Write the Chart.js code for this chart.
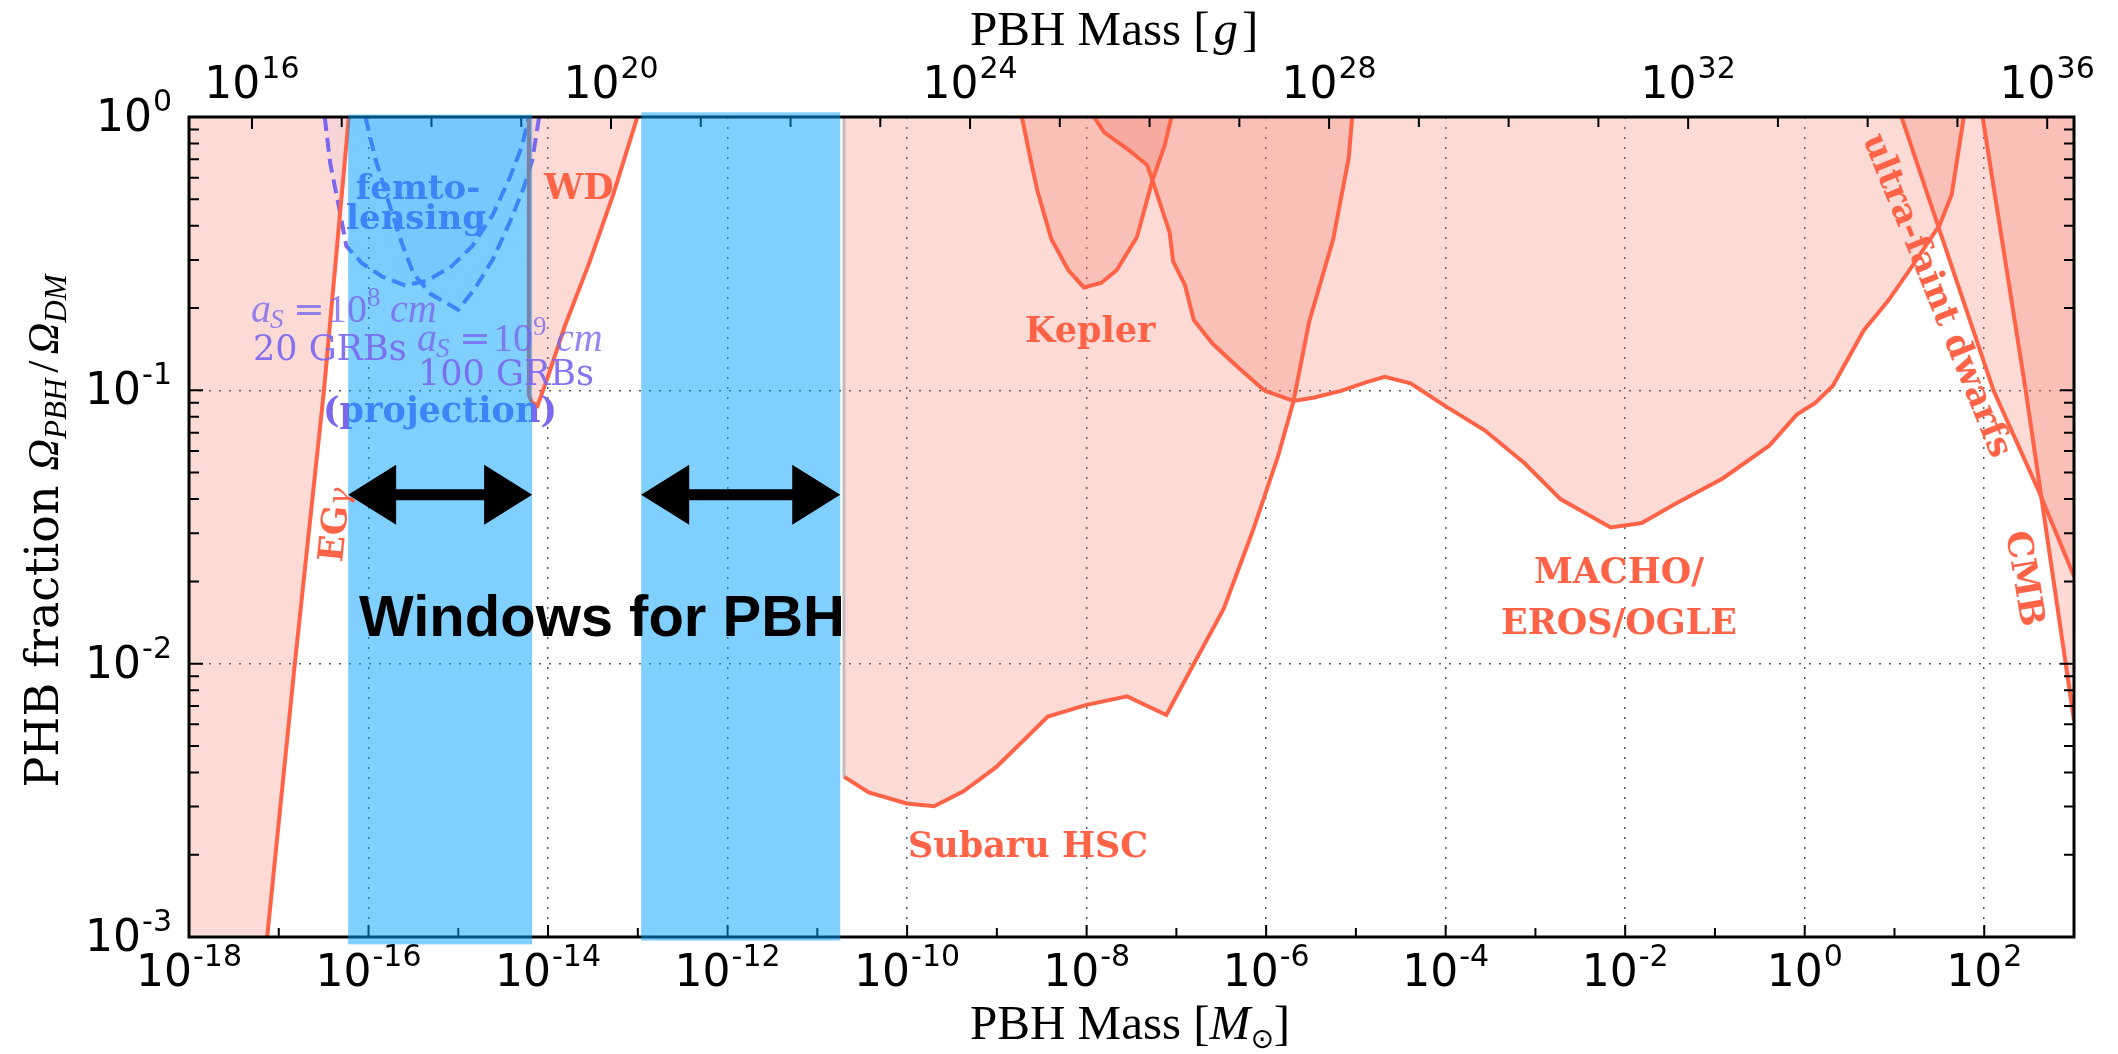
<!DOCTYPE html>
<html>
<head>
<meta charset="utf-8">
<script src="https://cdn.jsdelivr.net/npm/chart.js@4.4.0/dist/chart.umd.min.js"></script>
<style>
  html, body { margin: 0; padding: 0; background: #fff; }
  #chart { display: block; }
</style>
</head>
<body>
<canvas id="chart" width="2118" height="1054"></canvas>
<script>
// ---- axis ranges and ticks ----
const SOLAR_MASS_G = 1.989e33;
const massMin = 1e-18, massMax = 1e3;
const fracMin = 1e-3, fracMax = 1;

const massTicks = [1e-18, 1e-17, 1e-16, 1e-15, 1e-14, 1e-13, 1e-12, 1e-11, 1e-10, 1e-9, 1e-8,
                   1e-7, 1e-6, 1e-5, 1e-4, 1e-3, 1e-2, 1e-1, 1, 1e1, 1e2, 1e3];
const massLabelTicks = [1e-18, 1e-16, 1e-14, 1e-12, 1e-10, 1e-8, 1e-6, 1e-4, 1e-2, 1, 1e2];
const gramTicks = [1e16, 1e17, 1e18, 1e19, 1e20, 1e21, 1e22, 1e23, 1e24, 1e25, 1e26,
                   1e27, 1e28, 1e29, 1e30, 1e31, 1e32, 1e33, 1e34, 1e35, 1e36];
const gramLabelTicks = [1e16, 1e20, 1e24, 1e28, 1e32, 1e36];
const fracTicks = [1e-3, 1e-2, 1e-1, 1];

// ---- constraint curves (mass in solar masses, fraction of DM) ----
const egMass = [7.43e-18, 1.51e-17, 3.19e-17, 6.03e-17];
const egFrac = [1e-3, 1e-2, 1e-1, 1];

const wdMass = [6.11e-15, 6.11e-15, 6.58e-15, 7.62e-15, 9.95e-15, 1.55e-14, 2.87e-14, 5.33e-14, 9.89e-14];
const wdFrac = [1, 0.096, 0.0906, 0.0877, 0.112, 0.173, 0.292, 0.521, 1];

const femto8Mass = [3.25e-17, 3.74e-17, 4.55e-17, 5.66e-17, 8.43e-17, 1.44e-16, 2.55e-16, 4.52e-16,
                    8.38e-16, 1.43e-15, 2.42e-15, 3.77e-15, 5.13e-15, 6.11e-15];
const femto8Frac = [1, 0.678, 0.492, 0.337, 0.292, 0.260, 0.242, 0.252, 0.284, 0.337, 0.438, 0.603, 0.783, 1];

const femto9Mass = [9.23e-17, 1.20e-16, 1.71e-16, 2.33e-16, 3.18e-16, 4.94e-16, 1.00e-15, 1.56e-15,
                    2.42e-15, 3.77e-15, 5.37e-15, 6.68e-15, 7.96e-15];
const femto9Frac = [1, 0.697, 0.478, 0.348, 0.267, 0.225, 0.197, 0.238, 0.301, 0.414, 0.552, 0.697, 1];

const hscMass = [1.98e-11, 3.74e-11, 9.89e-11, 2.00e-10, 4.24e-10, 9.82e-10, 3.70e-9, 9.75e-9, 2.82e-8,
                 7.73e-8, 1.55e-7, 3.37e-7, 7.02e-7, 1.36e-6, 2.02e-6, 3.01e-6, 5.58e-6, 8.32e-6, 9.08e-6];
const hscFrac = [3.86e-3, 3.38e-3, 3.08e-3, 3.01e-3, 3.41e-3, 4.18e-3, 6.40e-3, 7.05e-3, 7.59e-3,
                 6.49e-3, 9.93e-3, 1.59e-2, 3.03e-2, 5.75e-2, 9.14e-2, 0.178, 0.357, 0.708, 1];

const keplerMass = [1.90e-9, 2.38e-9, 2.83e-9, 4.04e-9, 6.27e-9, 9.33e-9, 1.45e-8, 2.16e-8, 3.63e-8, 5.41e-8, 7.38e-8, 8.81e-8];
const keplerFrac = [1, 0.697, 0.537, 0.358, 0.275, 0.238, 0.247, 0.275, 0.363, 0.586, 0.783, 1];

const machoMass = [1.21e-8, 1.57e-8, 2.91e-8, 4.73e-8, 5.41e-8, 8.41e-8, 9.20e-8, 1.25e-7, 1.56e-7, 2.54e-7,
                   4.92e-7, 9.55e-7, 2.02e-6, 3.44e-6, 6.97e-6, 1.29e-5, 2.10e-5, 4.07e-5, 9.84e-5, 2.72e-4,
                   7.52e-4, 1.90e-3, 6.90e-3, 1.53e-2, 3.54e-2, 0.122, 0.402, 0.815, 1.32, 2.06,
                   4.56, 8.45, 15.7, 31.8, 43.4, 59.2];
const machoFrac = [1, 0.879, 0.760, 0.667, 0.586, 0.378, 0.296, 0.242, 0.181, 0.148,
                   0.121, 0.0998, 0.0914, 0.0942, 0.0998, 0.107, 0.112, 0.106, 0.0877, 0.0714,
                   0.0542, 0.0400, 0.0315, 0.0327, 0.0383, 0.0476, 0.0627, 0.0815, 0.0902, 0.104,
                   0.166, 0.212, 0.284, 0.402, 0.521, 1];

const ufdMass = [12.0, 30.4, 127, 394, 1000];
const ufdFrac = [1, 0.402, 0.0998, 0.0437, 0.0209];

const cmbMass = [95.9, 290, 1000];
const cmbFrac = [1, 0.0998, 6.2e-3];

// ---- windows for PBH ----
const windowLow = [5.93e-17, 1.09e-13];
const windowHigh = [6.65e-15, 1.80e-11];
const windowTop = [1.02, 1.04];
const windowBottom = [9.4e-4, 9.7e-4];
const arrowFrac = 0.0415;

// ---- styles ----
const lineRed = '#ff6347';
const fillPink = 'rgba(245,110,90,0.25)';
const purple = '#7b68ee';
const gridColor = 'rgba(70,70,70,0.9)';
const serif = '"DejaVu Serif"';
const times = '"Liberation Serif"';
const bold35 = 'bold 35px ' + serif;
const tickMain = '44px "DejaVu Sans"';
const tickExp = '30px "DejaVu Sans"';

function inList(list, v) {
    return list.some(t => Math.abs(Math.log10(t) - Math.log10(v)) < 1e-6);
}

function pts(xs, ys) {
    return xs.map((x, i) => ({ x: x, y: ys[i] }));
}

function curve(xs, ys, extra) {
    return Object.assign({
        data: pts(xs, ys),
        borderColor: lineRed,
        borderWidth: 4,
        backgroundColor: fillPink,
        fill: 'end',
        pointRadius: 0,
        tension: 0
    }, extra || {});
}

// "10" with a raised exponent, like matplotlib's mathtext tick labels
function powerLabel(ctx, v, x, y, align) {
    const e = String(Math.round(Math.log10(v)));
    ctx.font = tickMain;
    const w1 = ctx.measureText('10').width;
    ctx.font = tickExp;
    const w2 = ctx.measureText(e).width;
    const total = w1 + 1 + w2;
    const x0 = align === 'center' ? x - total / 2 : (align === 'right' ? x - total : x);
    ctx.textAlign = 'left';
    ctx.font = tickMain;
    ctx.fillText('10', x0, y);
    ctx.font = tickExp;
    ctx.fillText(e, x0 + w1 + 1, y - 20);
}

// run of text pieces [text, font, dy, gapBefore] one after another
function rich(ctx, parts, x, y, align) {
    let w = 0;
    parts.forEach(p => { ctx.font = p[1]; w += ctx.measureText(p[0]).width + (p[3] || 0); });
    let cx = align === 'center' ? x - w / 2 : x;
    ctx.textAlign = 'left';
    parts.forEach(p => {
        ctx.font = p[1];
        cx += p[3] || 0;
        ctx.fillText(p[0], cx, y + (p[2] || 0));
        cx += ctx.measureText(p[0]).width;
    });
}

// pieces placed at fixed offsets [text, font, dx, dy]
function placed(ctx, parts, x, y) {
    ctx.textAlign = 'left';
    parts.forEach(p => {
        ctx.font = p[1];
        ctx.fillText(p[0], x + p[2], y + p[3]);
    });
}

function rotatedText(ctx, text, font, x, y, angleDeg, align, baseline) {
    ctx.save();
    ctx.translate(x, y);
    ctx.rotate(angleDeg * Math.PI / 180);
    ctx.font = font;
    ctx.textAlign = align;
    ctx.textBaseline = baseline;
    ctx.fillText(text, 0, 0);
    ctx.restore();
}

function arrow(ctx, x0, x1, yc) {
    const head = 48, half = 30, shaft = 5.5;
    ctx.beginPath();
    ctx.moveTo(x0, yc);
    ctx.lineTo(x0 + head, yc - half);
    ctx.lineTo(x0 + head, yc - shaft);
    ctx.lineTo(x1 - head, yc - shaft);
    ctx.lineTo(x1 - head, yc - half);
    ctx.lineTo(x1, yc);
    ctx.lineTo(x1 - head, yc + half);
    ctx.lineTo(x1 - head, yc + shaft);
    ctx.lineTo(x0 + head, yc + shaft);
    ctx.lineTo(x0 + head, yc + half);
    ctx.closePath();
    ctx.fill();
}

const decor = {
    id: 'decor',
    afterDraw(chart) {
        const { ctx, chartArea: a, scales } = chart;
        const xs = scales.x, ys = scales.y, gs = scales.x2;
        ctx.save();
        ctx.textBaseline = 'alphabetic';

        // tick labels from the scales' own ticks
        ctx.fillStyle = '#000';
        xs.ticks.forEach(t => {
            if (inList(massLabelTicks, t.value)) powerLabel(ctx, t.value, xs.getPixelForValue(t.value), a.bottom + 48.5, 'center');
        });
        gs.ticks.forEach(t => {
            if (inList(gramLabelTicks, t.value)) powerLabel(ctx, t.value, gs.getPixelForValue(t.value), a.top - 19, 'center');
        });
        ys.ticks.forEach(t => {
            powerLabel(ctx, t.value, a.left - 17, ys.getPixelForValue(t.value) + 14, 'right');
        });

        // frame and inward ticks
        ctx.strokeStyle = '#000';
        ctx.lineWidth = 2;
        ctx.beginPath();
        massTicks.forEach(v => {
            const px = xs.getPixelForValue(v);
            const len = inList(massLabelTicks, v) ? 12 : 9;
            ctx.moveTo(px, a.bottom); ctx.lineTo(px, a.bottom - len);
        });
        gramTicks.forEach(v => {
            const px = gs.getPixelForValue(v);
            const len = inList(gramLabelTicks, v) ? 12 : 10;
            ctx.moveTo(px, a.top); ctx.lineTo(px, a.top + len);
        });
        for (let e = -3; e < 0; e++) {
            for (let m = 1; m < 10; m++) {
                const py = ys.getPixelForValue(m * Math.pow(10, e));
                const len = m === 1 ? 14 : 10;
                ctx.moveTo(a.left, py); ctx.lineTo(a.left + len, py);
                ctx.moveTo(a.right, py); ctx.lineTo(a.right - len, py);
            }
        }
        ctx.stroke();
        ctx.lineWidth = 3;
        ctx.strokeRect(a.left, a.top, a.right - a.left, a.bottom - a.top);

        // axis titles
        const tf = '49px ' + times;
        const tfi = 'italic 49px ' + times;
        rich(ctx, [['PBH Mass [', tf], ['g', tfi, 0, 4], [']', tf, 0, 4]], 970, 45);
        rich(ctx, [['PBH Mass [', tf], ['M', tfi], ['\u2299', '28px "DejaVu Sans"', 9], [']', tf]], 970, 1039);
        ctx.save();
        ctx.translate(58, 531);
        ctx.rotate(-Math.PI / 2);
        rich(ctx, [
            ['PHB fraction ', '46px ' + serif],
            ['\u03a9', 'italic 44px ' + times],
            ['PBH', 'italic 31px ' + times, 8],
            ['/', '44px ' + times, 0, 6],
            ['\u03a9', 'italic 44px ' + times, 0, 6],
            ['DM', 'italic 31px ' + times, 8]
        ], 0, 0, 'center');
        ctx.restore();

        // femtolensing labels (sit under the windows)
        ctx.fillStyle = purple;
        ctx.font = 'bold 34px ' + serif;
        ctx.textAlign = 'center';
        ctx.fillText('femto-', 418, 199);
        ctx.fillText('lensing', 416, 229);
        ctx.font = bold35;
        ctx.fillText('(projection)', 440, 422);

        // windows for PBH
        ctx.fillStyle = 'rgba(0,160,255,0.5)';
        windowLow.forEach((lo, i) => {
            const x0 = xs.getPixelForValue(lo), x1 = xs.getPixelForValue(windowHigh[i]);
            const y0 = ys.getPixelForValue(windowTop[i]), y1 = ys.getPixelForValue(windowBottom[i]);
            ctx.fillRect(x0, y0, x1 - x0, y1 - y0);
        });
        ctx.fillStyle = '#000';
        windowLow.forEach((lo, i) => {
            arrow(ctx, xs.getPixelForValue(lo), xs.getPixelForValue(windowHigh[i]), ys.getPixelForValue(arrowFrac));
        });
        ctx.font = 'bold 58px "Liberation Sans"';
        ctx.textAlign = 'left';
        ctx.fillText('Windows for PBH', 359, 636);

        // GRB projection labels
        const mf = '40px ' + times, mfi = 'italic 40px ' + times;
        const sf = '27px ' + times, sfi = 'italic 27px ' + times;
        const eq = '38px ' + serif;
        ctx.fillStyle = 'rgba(123,104,238,0.8)';
        placed(ctx, [['a', mfi, 0, 0], ['S', sfi, 19, 6], ['=', eq, 42, 0], ['10', mf, 76, 0], ['8', sf, 116, -16], ['cm', mfi, 139, 0]], 251, 322);
        placed(ctx, [['a', mfi, 0, 0], ['S', sfi, 19, 6], ['=', eq, 42, 0], ['10', mf, 76, 0], ['9', sf, 116, -16], ['cm', mfi, 139, 0]], 417, 351);
        ctx.fillStyle = 'rgba(123,104,238,0.92)';
        ctx.font = '35px ' + serif;
        ctx.textAlign = 'left';
        ctx.fillText('20 GRBs', 253, 360);
        ctx.fillText('100 GRBs', 418, 385);

        // constraint labels
        ctx.fillStyle = lineRed;
        ctx.font = bold35;
        ctx.fillText('WD', 544, 199);
        ctx.fillText('Kepler', 1025, 342);
        ctx.fillText('Subaru HSC', 908, 857);
        ctx.textAlign = 'center';
        ctx.fillText('MACHO/', 1619, 583);
        ctx.fillText('EROS/OGLE', 1619, 634);
        rotatedText(ctx, 'ultra-faint dwarfs', bold35, 1936, 296, 68, 'center', 'middle');
        rotatedText(ctx, 'CMB', bold35, 2023, 579, 80.5, 'center', 'middle');
        ctx.save();
        ctx.translate(342, 563);
        ctx.rotate(-84 * Math.PI / 180);
        rich(ctx, [['EG', bold35], ['\u03b3', 'italic 30px ' + serif]], 0, 0);
        ctx.restore();

        ctx.restore();
    }
};

const chart = new Chart(document.getElementById('chart'), {
    type: 'line',
    data: {
        datasets: [
            curve([massMin].concat(egMass), [fracMin].concat(egFrac), { borderWidth: 0 }),
            curve(egMass, egFrac, { fill: false }),
            curve(wdMass, wdFrac),
            // light edge on the left side of the HSC region
            curve([hscMass[0], hscMass[0]], [hscFrac[0], fracMax], { fill: false, borderWidth: 3, borderColor: 'rgba(185,185,185,0.9)' }),
            curve(hscMass, hscFrac),
            curve(keplerMass, keplerFrac),
            curve(machoMass, machoFrac),
            curve(ufdMass, ufdFrac),
            curve(cmbMass, cmbFrac),
            curve(femto8Mass, femto8Frac, { borderColor: purple, borderDash: [14, 7], backgroundColor: 'rgba(123,104,238,0.05)' }),
            curve(femto9Mass, femto9Frac, { borderColor: purple, borderDash: [14, 7], backgroundColor: 'rgba(123,104,238,0.05)' })
        ]
    },
    options: {
        responsive: false,
        devicePixelRatio: 1,
        animation: false,
        layout: { padding: { left: 0, right: 44, top: 0, bottom: 0 } },
        plugins: {
            legend: { display: false },
            tooltip: { enabled: false },
            filler: { drawTime: 'beforeDatasetsDraw' }
        },
        scales: {
            x: {
                type: 'logarithmic',
                position: 'bottom',
                min: massMin,
                max: massMax,
                z: 1,
                afterBuildTicks: s => { s.ticks = massTicks.map(v => ({ value: v })); },
                afterFit: s => { s.height = 117; },
                grid: {
                    drawTicks: false,
                    lineWidth: 1.5,
                    color: c => (c.tick && inList(massLabelTicks, c.tick.value)) ? gridColor : 'rgba(0,0,0,0)'
                },
                border: { display: false, dash: [2, 8] },
                ticks: { display: false }
            },
            x2: {
                type: 'logarithmic',
                position: 'top',
                min: massMin * SOLAR_MASS_G,
                max: massMax * SOLAR_MASS_G,
                z: 1,
                afterBuildTicks: s => { s.ticks = gramTicks.map(v => ({ value: v })); },
                afterFit: s => { s.height = 117; },
                grid: { display: false, drawTicks: false },
                border: { display: false },
                ticks: { display: false }
            },
            y: {
                type: 'logarithmic',
                min: fracMin,
                max: fracMax,
                z: 1,
                afterBuildTicks: s => { s.ticks = fracTicks.map(v => ({ value: v })); },
                afterFit: s => { s.width = 189; },
                grid: { drawTicks: false, lineWidth: 1.5, color: gridColor },
                border: { display: false, dash: [2, 8] },
                ticks: { display: false }
            }
        }
    },
    plugins: [decor]
});
</script>
</body>
</html>
